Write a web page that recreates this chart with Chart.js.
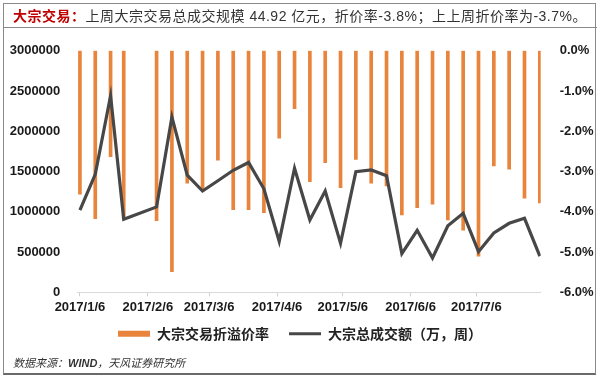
<!DOCTYPE html>
<html>
<head>
<meta charset="utf-8">
<script src="https://cdn.jsdelivr.net/npm/chart.js@4.4.1/dist/chart.umd.min.js"></script>
<style>
  html, body { margin: 0; padding: 0; background: #ffffff; }
  #wrap { position: relative; width: 600px; height: 382px; overflow: hidden; background: #fff; }
  #c { position: absolute; left: 0; top: 0; }
  #frame { position: absolute; left: 3px; top: 3px; width: 593px; height: 372px; border: 1px solid #8a8a8a; border-bottom: 2px solid #6a6a6a; box-sizing: border-box; pointer-events: none; }
  #sep { position: absolute; left: 3px; top: 27px; width: 594px; height: 0; border-top: 1px solid #8a8a8a; pointer-events: none; }
  #title { position: absolute; left: 13px; top: 4px; height: 23px; line-height: 23px; font-family: "Liberation Sans", "Noto Sans CJK SC", sans-serif; font-size: 14px; color: #333; white-space: nowrap; letter-spacing: 0.5px; }
  #title .red { color: #c00000; font-weight: bold; font-family: "Noto Sans CJK SC", sans-serif; }
  #src { position: absolute; left: 13px; top: 355px; height: 16px; line-height: 16px; font-family: "Liberation Sans", "Noto Sans CJK SC", sans-serif; font-size: 11px; font-style: italic; color: #333; white-space: nowrap; }
  #src b { font-weight: bold; }
</style>
</head>
<body>
<div id="wrap">
  <canvas id="c" width="600" height="382"></canvas>
  <div id="title"><span class="red">大宗交易：</span>上周大宗交易总成交规模 44.92 亿元，折价率-3.8%；上上周折价率为-3.7%。</div>
  <div id="src">数据来源：<b>WIND</b>，天风证券研究所</div>
  <div id="frame"></div>
  <div id="sep"></div>
</div>
<script>
// ---- data ----
const dates = ['2017/1/6','2017/1/13','2017/1/20','2017/1/26','2017/2/10','2017/2/17','2017/2/24','2017/3/3','2017/3/10','2017/3/17','2017/3/24','2017/3/31','2017/4/7','2017/4/14','2017/4/21','2017/4/28','2017/5/5','2017/5/12','2017/5/19','2017/5/26','2017/6/2','2017/6/9','2017/6/16','2017/6/23','2017/6/30','2017/7/7','2017/7/14','2017/7/21','2017/7/28','2017/8/4'];
const discountRate = [-3.56,-4.17,-2.63,-4.18,-4.22,-5.49,-3.29,-3.43,-2.72,-3.95,-3.95,-4.02,-2.17,-1.44,-3.25,-2.78,-3.40,-2.70,-3.29,-3.36,-4.08,-3.90,-3.81,-4.20,-4.46,-5.10,-2.86,-2.94,-3.66,-3.78];
const volume = [1020000,1465000,2440000,906000,1060000,2175000,1455000,1258000,1385000,1515000,1612000,1285000,633000,1540000,898000,1258000,608000,1498000,1519000,1448000,480000,770000,426000,825000,981000,504000,737000,857000,919000,449200];
const xTickLabels = ['2017/1/6','2017/2/6','2017/3/6','2017/4/6','2017/5/6','2017/6/6','2017/7/6'];
const leftTicks = [0,500000,1000000,1500000,2000000,2500000,3000000];
const rightTicks = [-6,-5,-4,-3,-2,-1,0];
const seriesNames = ['大宗交易折溢价率','大宗总成交额（万，周）'];

// ---- helpers ----
function dayOf(s){ const p = s.split('/').map(Number); return (Date.UTC(p[0],p[1]-1,p[2]) - Date.UTC(2017,0,6)) / 86400000; }
const barPoints = dates.map((d,i)=>({x: dayOf(d), y: discountRate[i]}));
const linePoints = dates.map((d,i)=>({x: dayOf(d), y: volume[i]}));
const tickDays = xTickLabels.map(dayOf);

const ORANGE = '#E8843C';
const DARK = '#474747';
const tickFont = { family: 'Liberation Sans', size: 13, weight: 'bold' };

// shift the legend up a little so it sits closer to the axis labels
const legendShift = {
  id: 'legendShift',
  afterLayout(chart){
    const lg = chart.legend;
    if (lg) { lg.top -= 9.6; lg.bottom -= 9.6; }
  }
};

new Chart(document.getElementById('c'), {
  plugins: [legendShift],
  data: {
    datasets: [
      { type: 'line', label: seriesNames[1], data: linePoints, yAxisID: 'y', xAxisID: 'x',
        borderColor: DARK, backgroundColor: DARK, borderWidth: 3.2, pointRadius: 0, tension: 0, order: 0 },
      { type: 'bar', label: seriesNames[0], data: barPoints, yAxisID: 'y1', xAxisID: 'x',
        backgroundColor: ORANGE, borderWidth: 0, barThickness: 3, order: 1 }
    ]
  },
  options: {
    responsive: false,
    animation: false,
    devicePixelRatio: 1,
    layout: { padding: { left: 0, right: 0, top: 50.7, bottom: 21.7 } },
    plugins: {
      tooltip: { enabled: false },
      title: { display: false },
      legend: {
        position: 'bottom',
        labels: {
          usePointStyle: true,
          pointStyleWidth: 32,
          boxHeight: 6,
          padding: 20,
          color: '#222',
          font: { family: 'Noto Sans CJK SC', size: 14, weight: 'bold' },
          generateLabels: function(chart){
            return [
              { text: seriesNames[0], fillStyle: ORANGE, strokeStyle: ORANGE, lineWidth: 0, pointStyle: 'rect', hidden: false, datasetIndex: 1, fontColor: '#222' },
              { text: seriesNames[1], fillStyle: DARK, strokeStyle: DARK, lineWidth: 3, pointStyle: 'line', hidden: false, datasetIndex: 0, fontColor: '#222' }
            ];
          }
        }
      }
    },
    scales: {
      x: {
        type: 'linear', position: 'bottom', offset: false,
        min: -1.2, max: 210.4,
        afterBuildTicks: function(scale){ scale.ticks = tickDays.map(v=>({value: v})); },
        afterFit: function(scale){ scale.height = 24; },
        grid: { display: true, offset: false, drawOnChartArea: false, drawTicks: true, tickLength: 4, color: '#D0D0D0' },
        border: { display: true, color: '#D9D9D9', width: 1 },
        ticks: { font: tickFont, color: '#1a1a1a', padding: 3, maxRotation: 0, autoSkip: false,
          callback: function(v){ const i = tickDays.indexOf(v); return i >= 0 ? xTickLabels[i] : ''; } }
      },
      y: {
        type: 'linear', position: 'left',
        min: 0, max: 3000000,
        afterBuildTicks: function(scale){ scale.ticks = leftTicks.map(v=>({value: v})); },
        afterFit: function(scale){ scale.width = 77.3; },
        grid: { display: false },
        border: { display: false },
        ticks: { font: tickFont, color: '#1a1a1a', padding: 9, callback: v => String(v) }
      },
      y1: {
        type: 'linear', position: 'right',
        min: -6, max: 0,
        afterBuildTicks: function(scale){ scale.ticks = rightTicks.map(v=>({value: v})); },
        afterFit: function(scale){ scale.width = 59.3; },
        grid: { display: false },
        border: { display: false },
        ticks: { font: tickFont, color: '#1a1a1a', padding: 11, callback: v => v.toFixed(1) + '%' }
      }
    }
  }
});
</script>
</body>
</html>
